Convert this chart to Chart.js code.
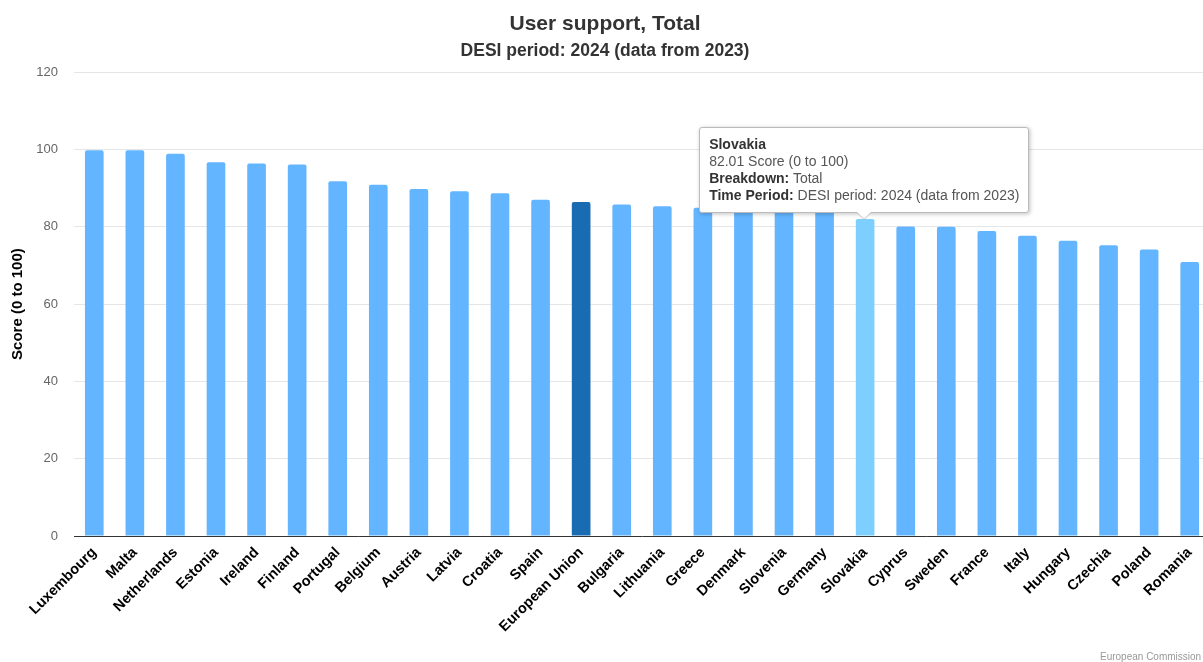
<!DOCTYPE html>
<html>
<head>
<meta charset="utf-8">
<script src="https://cdn.jsdelivr.net/npm/chart.js@4"></script>
<style>
  html, body { margin: 0; padding: 0; overflow: hidden; background: #fff; }
  #wrap { position: relative; width: 1210px; height: 662px; }
  #tip {
    position: absolute; display: none; white-space: nowrap;
    background: #fff; border: 1px solid #bbb; border-radius: 3px;
    box-shadow: 1px 1px 4px rgba(0,0,0,0.25);
    padding: 8px 9px; font: 14px Arial, "Liberation Sans", sans-serif;
    line-height: 17px; color: #333; pointer-events: none;
  }
  #tip span { color: #555; }
  #tip:before, #tip:after {
    content: ""; position: absolute; left: 50%; border-style: solid;
  }
  #tip:before { margin-left: -8px; bottom: -8px; border-width: 8px 8px 0 8px; border-color: #bbb transparent transparent transparent; }
  #tip:after { margin-left: -7px; bottom: -7px; border-width: 7px 7px 0 7px; border-color: #fff transparent transparent transparent; }
  #credit { position: absolute; left: 1100px; top: 651px; font: 10px Arial, "Liberation Sans", sans-serif; color: #999; white-space: nowrap; }
</style>
</head>
<body>
<div id="wrap">
  <canvas id="chart" width="1210" height="662"></canvas>
  <div id="tip"></div>
  <div id="credit">European Commission</div>
</div>
<script>
const countries = ["Luxembourg", "Malta", "Netherlands", "Estonia", "Ireland", "Finland", "Portugal",
  "Belgium", "Austria", "Latvia", "Croatia", "Spain", "European Union", "Bulgaria", "Lithuania",
  "Greece", "Denmark", "Slovenia", "Germany", "Slovakia", "Cyprus", "Sweden", "France", "Italy",
  "Hungary", "Czechia", "Poland", "Romania"];
const scores = [99.8, 99.8, 98.9, 96.7, 96.4, 96.1, 91.8,
  90.9, 89.8, 89.2, 88.7, 87.0, 86.4, 85.8, 85.3,
  84.9, 84.7, 84.4, 84.1, 82.01, 80.1, 80.0, 78.9, 77.7,
  76.4, 75.2, 74.1, 70.9];
const yTicks = [0, 20, 40, 60, 80, 100, 120];
const euLabel = "European Union";
const hoveredLabel = "Slovakia";
const breakdown = "Total";
const period = "DESI period: 2024 (data from 2023)";

const barColor = "#64b5ff";
const euColor = "#1a6cb2";
const hoverColor = "#7dcfff";
const fontFamily = 'Arial, "Liberation Sans", sans-serif';

const colors = countries.map(c => c === euLabel ? euColor : (c === hoveredLabel ? hoverColor : barColor));

const externalTip = (context) => {
  const tt = context.tooltip;
  const el = document.getElementById("tip");
  if (tt.opacity === 0 || !tt.dataPoints || !tt.dataPoints.length) {
    el.style.display = "none";
    return;
  }
  const i = tt.dataPoints[0].dataIndex;
  el.innerHTML = `<b>${countries[i]}</b><br><span>${scores[i].toFixed(2)} Score (0 to 100)</span><br>` +
    `<b>Breakdown:</b> <span>${breakdown}</span><br><b>Time Period:</b> <span>${period}</span>`;
  el.style.display = "block";
  el.style.left = (tt.caretX - el.offsetWidth / 2 - 1) + "px";
  el.style.top = (tt.caretY - 6 - el.offsetHeight) + "px";
};

const ctx = document.getElementById("chart").getContext("2d");
const chart = new Chart(ctx, {
  type: "bar",
  data: {
    labels: countries,
    datasets: [{
      label: "Score (0 to 100)",
      data: scores,
      backgroundColor: colors,
      hoverBackgroundColor: colors,
      borderRadius: { topLeft: 2, topRight: 2 },
      borderSkipped: "start",
      barPercentage: 0.46,
      categoryPercentage: 1
    }]
  },
  options: {
    responsive: false,
    animation: false,
    layout: { padding: 0 },
    events: [],
    plugins: {
      legend: { display: false },
      title: {
        display: true,
        text: "User support, Total",
        color: "#333",
        font: { family: fontFamily, size: 21, weight: "bold" },
        padding: { top: 12, bottom: 3 }
      },
      subtitle: {
        display: true,
        text: "DESI period: 2024 (data from 2023)",
        color: "#333",
        font: { family: fontFamily, size: 17.5, weight: "bold" },
        padding: { top: 0, bottom: 11 }
      },
      tooltip: { enabled: false, external: externalTip, mode: "index", intersect: false }
    },
    scales: {
      x: {
        grid: { display: false },
        border: { display: true, color: "#333", width: 1 },
        ticks: {
          autoSkip: false, maxRotation: 45, minRotation: 45, padding: 0,
          color: "#000", font: { family: fontFamily, size: 14.5, weight: "bold" }
        },
        afterFit: (scale) => { scale.height = 126; }
      },
      y: {
        min: 0, max: 120,
        afterBuildTicks: (scale) => { scale.ticks = yTicks.map(v => ({ value: v })); },
        grid: { color: "#e6e6e6", drawTicks: false },
        border: { display: false },
        ticks: { padding: 16, color: "#666", font: { family: fontFamily, size: 13 } },
        title: {
          display: true, text: "Score (0 to 100)", color: "#000",
          font: { family: fontFamily, size: 15, weight: "bold" },
          padding: { top: 9, bottom: 0 }
        },
        afterFit: (scale) => { scale.width = 74; }
      }
    }
  }
});

const idx = countries.indexOf(hoveredLabel);
const meta = chart.getDatasetMeta(0);
const bar = meta.data[idx];
chart.tooltip.setActiveElements([{ datasetIndex: 0, index: idx }], { x: bar.x, y: bar.y });
chart.update();
</script>
</body>
</html>
